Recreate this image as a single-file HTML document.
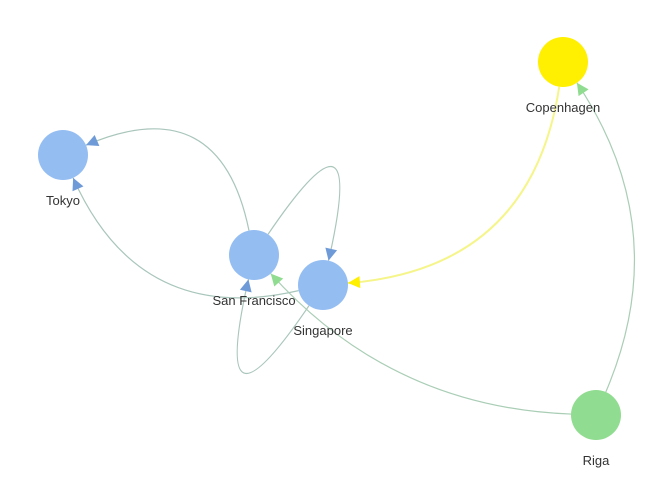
<!DOCTYPE html>
<html><head><meta charset="utf-8"><style>
html,body{margin:0;padding:0;background:#fff;}
svg{display:block;}
text{font-family:"Liberation Sans",sans-serif;font-size:13px;fill:#333;}
</style></head><body>
<svg id="g" width="661" height="496"></svg>
<script>
const nodeNames = ["Tokyo","San Francisco","Singapore","Copenhagen","Riga"];
const nodeX = [63,254,323,563,596];
const nodeY = [155,255,285,62,415];
const nodeColors = ["#94bdf2","#94bdf2","#94bdf2","#ffef00","#90dc90"];
const edgeSource = [1,2,1,2,4,4,3];
const edgeTarget = [0,0,2,1,1,3,2];
const edgeBend = [66,-60,-100,-100,-40,48,-65];
const edgeColors = ["#a9c6bb","#a9c6bb","#a9c6bb","#a9c6bb","#a9cdb5","#a9cdb5","#f5f58a"];
const arrowColors = ["#6f9ad8","#6f9ad8","#6f9ad8","#6f9ad8","#90dc90","#90dc90","#ffef00"];
const R = 25;
const NS = "http://www.w3.org/2000/svg";
const svg = document.getElementById('g');
function mk(t, a){const e=document.createElementNS(NS,t);for(const k in a)e.setAttribute(k,a[k]);return e;}
for(let i=0;i<edgeSource.length;i++){
  const s=edgeSource[i], t=edgeTarget[i];
  const sx=nodeX[s], sy=nodeY[s], tx=nodeX[t], ty=nodeY[t];
  const dx=tx-sx, dy=ty-sy, L=Math.hypot(dx,dy);
  const nx=-dy/L, ny=dx/L;
  const cx=(sx+tx)/2+2*edgeBend[i]*nx, cy=(sy+ty)/2+2*edgeBend[i]*ny;
  let ux=cx-sx, uy=cy-sy, ul=Math.hypot(ux,uy);
  const ax=sx+R*ux/ul, ay=sy+R*uy/ul;
  let vx=cx-tx, vy=cy-ty, vl=Math.hypot(vx,vy);
  vx/=vl; vy/=vl;
  const bx=tx+R*vx, by=ty+R*vy;
  const p=mk('path',{d:`M${ax},${ay} Q${cx},${cy} ${bx},${by}`,fill:'none',stroke:edgeColors[i],'stroke-width':i==6?2:1.2});
  
  
  svg.appendChild(p);
  const h=12, w=6, px=-vy, py=vx;
  const tri=mk('polygon',{points:`${bx},${by} ${bx+h*vx+w*px},${by+h*vy+w*py} ${bx+h*vx-w*px},${by+h*vy-w*py}`,fill:arrowColors[i]});
  
  
  svg.appendChild(tri);
}
for(let i=0;i<nodeNames.length;i++){
  const c=mk('circle',{cx:nodeX[i],cy:nodeY[i],r:R,fill:nodeColors[i]});
  
  
  svg.appendChild(c);
  const tx=mk('text',{x:nodeX[i],y:nodeY[i]+50,'text-anchor':'middle'});
  tx.textContent=nodeNames[i];
  
  
  svg.appendChild(tx);
}
</script>
</body></html>
